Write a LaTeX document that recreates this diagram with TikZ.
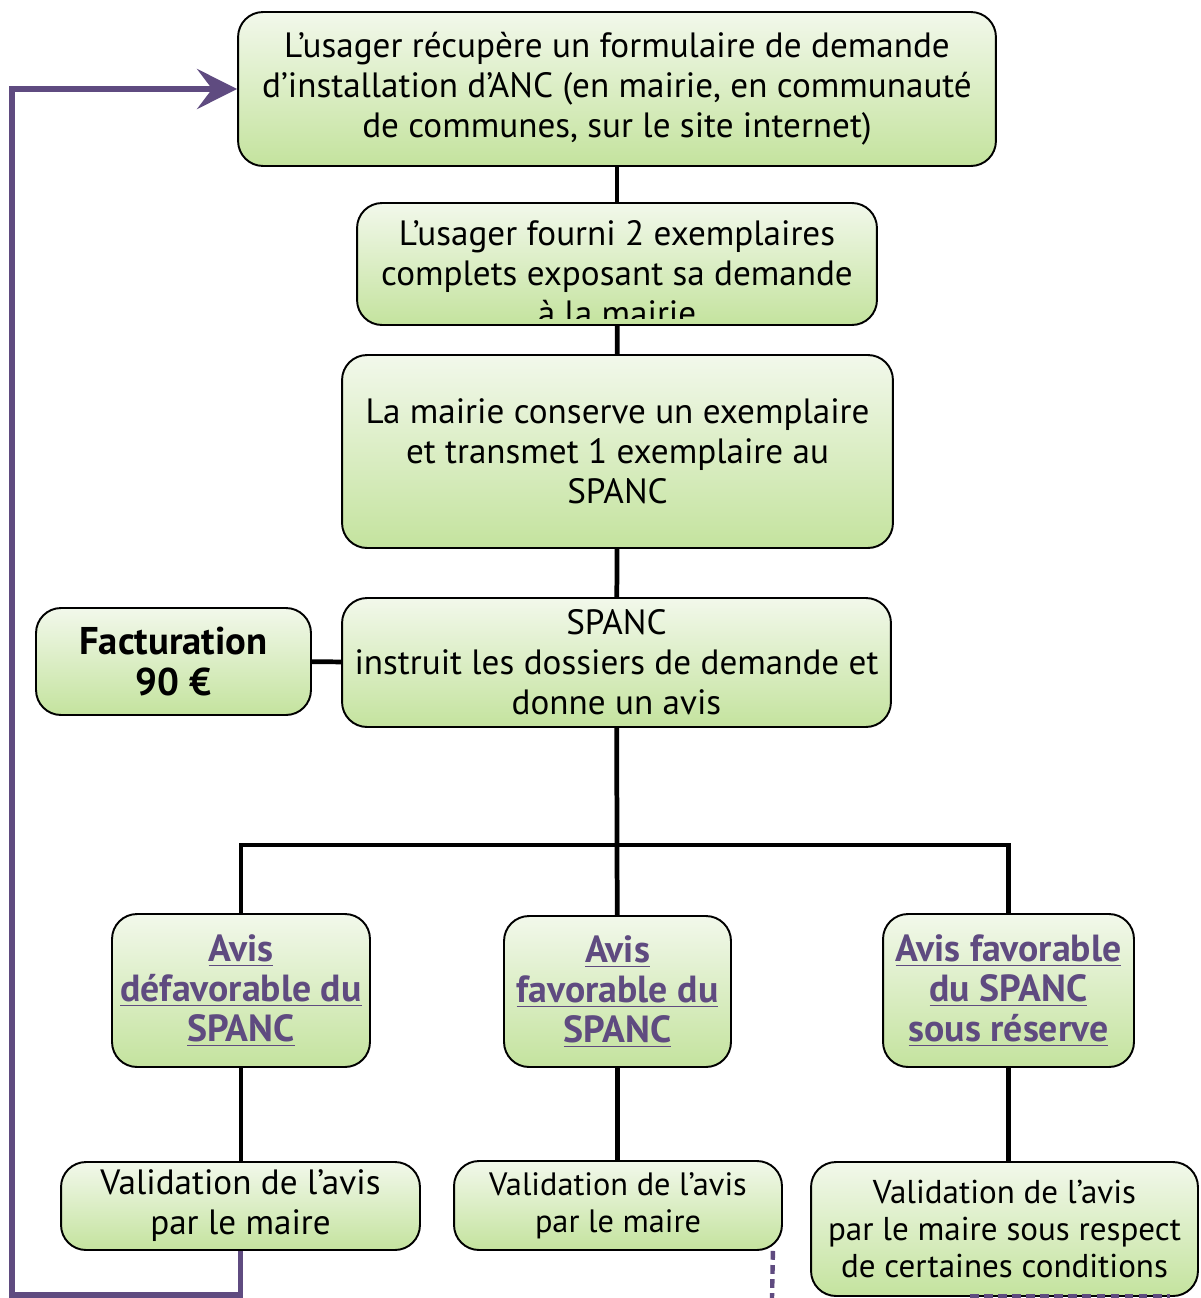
\documentclass[tikz,border=0pt]{standalone}
\usepackage{fontspec}
\setmainfont{PT Sans}
\usetikzlibrary{arrows.meta}
\definecolor{avispurple}{RGB}{95,75,128}
\definecolor{boxtop}{RGB}{242,248,235}
\definecolor{boxbottom}{RGB}{196,227,158}
\tikzset{
  texte/.style={align=center, inner sep=0pt, font=\fontsize{20}{22.8}\selectfont},
  etape/.style={texte, draw=black, line width=1.1pt, rounded corners=0.5cm, top color=boxtop, bottom color=boxbottom},
  avis/.style={etape, text=avispurple, font=\fontsize{21.5}{22.8}\selectfont\bfseries},
  lien/.style={line width=2.7pt},
  retour/.style={line width=3pt, draw=avispurple},
}
\begin{document}
\begin{tikzpicture}[x=0.02cm, y=-0.02cm]
            \useasboundingbox (0,0) rectangle (1200,1298);
            % upper chain
            \node[etape, minimum width=15.16cm, minimum height=3.08cm] (demande) at (617,89) {L’usager récupère un formulaire de demande\\d’installation d’ANC (en mairie, en communauté\\de communes, sur le site internet)};
            \node[etape, minimum width=10.4cm, minimum height=2.44cm] (fourni) at (617,264) {};
            \begin{scope}
                \clip (fourni.north west) rectangle ([yshift=0.14cm]fourni.south east);
                \node[texte] (fournitexte) at (617,273) {L’usager fourni 2 exemplaires\\complets exposant sa demande\\à la mairie};
            \end{scope}
            \node[etape, minimum width=11.02cm, minimum height=3.86cm] (mairie) at (617.5,451.5) {La mairie conserve un exemplaire\\et transmet 1 exemplaire au\\SPANC};
            \node[etape, minimum width=10.98cm, minimum height=2.58cm] (spanc) at (616.5,662.5) {SPANC\\instruit les dossiers de demande et\\donne un avis};
            \node[etape, font=\fontsize{22}{22.8}\selectfont\bfseries, minimum width=5.5cm, minimum height=2.14cm] (factu) at (173.5,661.5) {Facturation\\90 €};
            % avis
            \node[avis, minimum width=5.16cm, minimum height=3.06cm] (defav) at (241,990.5) {\underline{Avis}\\\underline{défavorable du}\\\underline{SPANC}};
            \node[avis, minimum width=4.54cm, minimum height=3.02cm] (fav) at (617.5,991.5) {\underline{Avis}\\\underline{favorable du}\\\underline{SPANC}};
            \node[avis, minimum width=5.02cm, minimum height=3.06cm] (reserve) at (1008.5,990.5) {\underline{Avis favorable}\\\underline{du SPANC}\\\underline{sous réserve}};
            % validation
            \node[etape, minimum width=7.18cm, minimum height=1.76cm] (valid1) at (240.5,1206) {Validation de l’avis\\par le maire};
            \node[etape, font=\fontsize{18.4}{21}\selectfont, minimum width=6.56cm, minimum height=1.78cm] (valid2) at (618,1205.5) {Validation de l’avis\\par le maire};
            \node[etape, font=\fontsize{18.8}{21}\selectfont, minimum width=7.74cm, minimum height=2.68cm] (valid3) at (1004.5,1229) {Validation de l’avis\\par le maire sous respect\\de certaines conditions};
            % connectors
            \coordinate (branche) at (617,845);
            \draw[lien] (demande) -- (fourni);
            \draw[lien] (fourni) -- (mairie);
            \draw[lien] (mairie) -- (spanc);
            \draw[lien] (factu) -- (spanc);
            \draw[lien] (spanc) -- (branche);
            \draw[lien] (defav.north) |- (branche) -| (reserve.north);
            \draw[lien] (branche) -- (fav);
            \draw[lien] (defav.south) -- (defav.south |- valid1.north);
            \draw[lien] (fav.south) -- (fav.south |- valid2.north);
            \draw[lien] (reserve.south) -- (reserve.south |- valid3.north);
            % retour
            \coordinate (coin) at (12,1295);
            \draw[retour, -{Stealth[length=0.8cm, width=0.8cm, inset=0.3cm]}] (valid1.south) |- (coin) |- (demande.west);
            \coordinate (suite2) at (772,1298);
            \coordinate (suite3a) at (970,1296);
            \coordinate (suite3b) at (1170,1296);
            \draw[retour, line width=2.5pt, dash pattern=on 5pt off 3pt] ([xshift=-0.2cm]valid2.south east) -- (suite2);
            \draw[retour, line width=2.5pt, dash pattern=on 5pt off 3pt] (suite3a) -- (suite3b);
\end{tikzpicture}
\end{document}
